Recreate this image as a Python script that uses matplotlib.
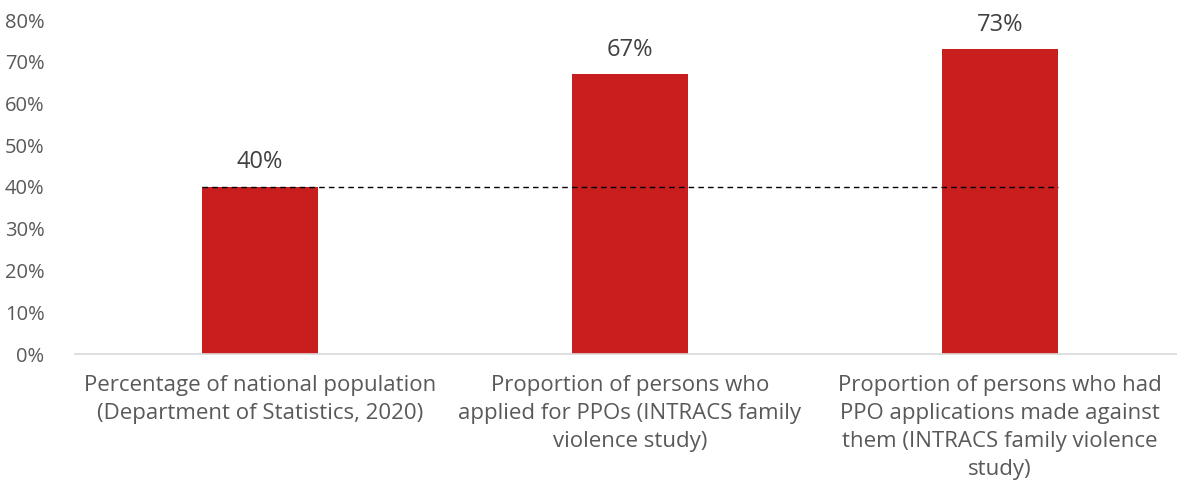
import matplotlib.pyplot as plt
import numpy as np
from matplotlib.ticker import PercentFormatter

plt.rcParams['font.family'] = ['Open Sans', 'DejaVu Sans']

# data
categories = ['Percentage of national population\n(Department of Statistics, 2020)',
              'Proportion of persons who\napplied for PPOs (INTRACS family\nviolence study)',
              'Proportion of persons who had\nPPO applications made against\nthem (INTRACS family violence\nstudy)']
values = [40, 67, 73]
reference = 40

fig = plt.figure(figsize=(11.77, 4.99), dpi=100)
ax = fig.add_axes([75 / 1177, 145 / 499, 1110 / 1177, 334 / 499])

x = np.arange(len(categories))
w = 0.314
ax.bar(x, values, width=w, color='#C81E1E', zorder=2)
for xi, v in zip(x, values):
    ax.text(xi, v + 3.0, f'{v}%', ha='center', va='bottom', fontsize=17, color='#404040')

# dashed reference line at national share
ax.plot([x[0] - w / 2, x[-1] + w / 2], [reference, reference], color='black',
        linestyle=(0, (4, 3)), linewidth=1, zorder=3)

ax.set_xlim(-0.5, 2.5)
ax.set_ylim(0, 80)
ax.set_yticks(np.arange(0, 81, 10))
ax.yaxis.set_major_formatter(PercentFormatter(decimals=0))
ax.set_xticks(x)
ax.set_xticklabels(categories, fontsize=16, color='#595959', linespacing=1.45)
ax.tick_params(axis='y', length=0, labelsize=14.5, labelcolor='#595959', pad=22)
ax.tick_params(axis='x', length=0, pad=15)
for s in ['top', 'right', 'left']:
    ax.spines[s].set_visible(False)
ax.spines['bottom'].set_color('#D9D9D9')
ax.spines['bottom'].set_linewidth(1.2)

fig.savefig('out.png', dpi=100)
